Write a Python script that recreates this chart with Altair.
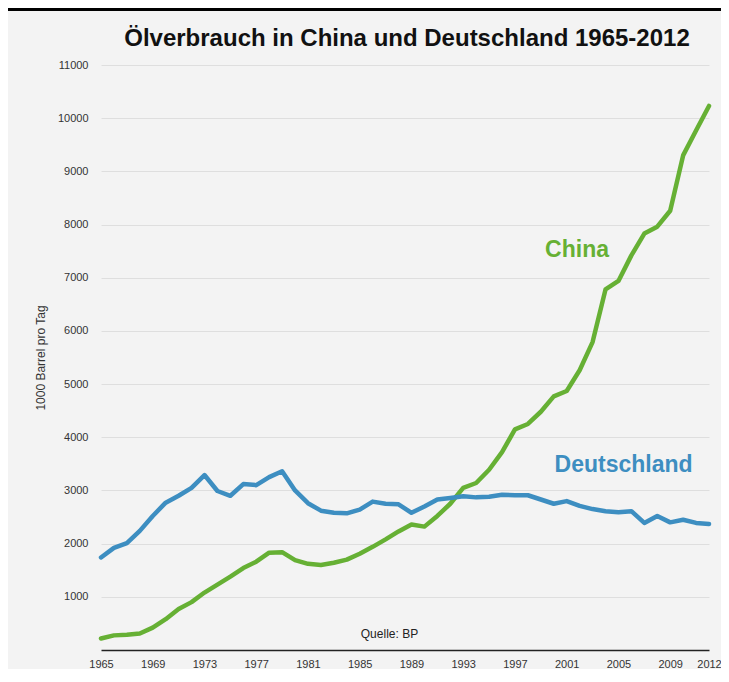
import altair as alt
import pandas as pd

years = list(range(1965, 2013))
china = [216, 275, 285, 310, 420, 580, 770, 900, 1080, 1230, 1380, 1540, 1660, 1830, 1840,
         1690, 1620, 1600, 1640, 1700, 1810, 1940, 2080, 2230, 2360, 2320, 2520, 2750, 3050,
         3140, 3390, 3720, 4150, 4250, 4480, 4770, 4870, 5260, 5790, 6780, 6940, 7420, 7830,
         7960, 8260, 9300, 9770, 10230]
germany = [1740, 1920, 2010, 2240, 2520, 2770, 2900, 3050, 3290, 2990, 2900, 3120, 3100,
           3250, 3360, 3000, 2760, 2620, 2580, 2570, 2640, 2790, 2750, 2740, 2580, 2700,
           2830, 2860, 2890, 2870, 2880, 2920, 2910, 2910, 2830, 2750, 2800, 2710, 2650,
           2610, 2590, 2610, 2390, 2520, 2400, 2450, 2390, 2370]
series_names = ["China", "Deutschland"]
line_colors = ["#66b034", "#3d8ec1"]
label_colors = ["#789a3e", "#3d7c9c"]
x_ticks = [1965, 1969, 1973, 1977, 1981, 1985, 1989, 1993, 1997, 2001, 2005, 2009, 2012]
y_ticks = list(range(1000, 12000, 1000))

title_text = "Ölverbrauch in China und Deutschland 1965-2012"
label_years = [2001.8, 2005.4]
label_values = [7520, 3480]
source_text = "Quelle: BP"
source_year = 1987.3
source_value = 300

df = pd.DataFrame({"Jahr": years, "China": china, "Deutschland": germany})
long = df.melt("Jahr", var_name="Land", value_name="Wert")

x_scale = alt.Scale(domain=[1965, 2012], nice=False, zero=False)
y_scale = alt.Scale(domain=[0, 11000], nice=False)

base = alt.Chart(long)
lines = base.mark_line(strokeWidth=4.5, strokeJoin="round", strokeCap="round").encode(
    x=alt.X("Jahr:Q", scale=x_scale,
            axis=alt.Axis(values=x_ticks, format="d", title=None, grid=False, ticks=False,
                          domain=True, domainColor="#222222", domainWidth=1.5,
                          labelFontSize=11, labelColor="#333333", labelPadding=8,
                          labelFont="Liberation Sans", labelOverlap=False, labelFlush=False)),
    y=alt.Y("Wert:Q", scale=y_scale,
            axis=alt.Axis(values=y_ticks, format="d", title="1000 Barrel pro Tag", grid=True,
                          gridColor="#dedede", gridWidth=1, ticks=False, domain=False,
                          labelFontSize=11, labelColor="#333333", labelPadding=13,
                          labelFont="Liberation Sans", titleFont="Liberation Sans",
                          titleFontSize=12, titleFontWeight="normal", titleColor="#333333",
                          titlePadding=10)),
    color=alt.Color("Land:N", scale=alt.Scale(domain=series_names, range=line_colors), legend=None),
)

lab_df = pd.DataFrame({"Jahr": label_years, "Wert": label_values, "Land": series_names})
labels = alt.Chart(lab_df).mark_text(fontSize=23, fontWeight="bold", font="Liberation Sans",
                                     align="center", baseline="middle").encode(
    x=alt.X("Jahr:Q", scale=x_scale),
    y=alt.Y("Wert:Q", scale=y_scale),
    text="Land:N",
    color=alt.Color("Land:N", scale=alt.Scale(domain=series_names, range=label_colors), legend=None),
)

src_df = pd.DataFrame({"Jahr": [source_year], "Wert": [source_value], "t": [source_text]})
source = alt.Chart(src_df).mark_text(fontSize=12, font="Liberation Sans", color="#222222",
                                     align="center", baseline="middle").encode(
    x=alt.X("Jahr:Q", scale=x_scale),
    y=alt.Y("Wert:Q", scale=y_scale),
    text="t:N",
)

title_df = pd.DataFrame({"t": [title_text]})
title = alt.Chart(title_df).mark_text(fontSize=24, fontWeight="bold", font="Liberation Sans",
                                      color="#111111", align="center", baseline="alphabetic").encode(
    x=alt.value(306), y=alt.value(-19), text="t:N")

frame_top = alt.Chart(src_df).mark_rule(color="#000000", strokeWidth=3).encode(
    x=alt.value(-93), x2=alt.value(620), y=alt.value(-55.5))

chart = alt.layer(lines, labels, source, title, frame_top).properties(
    width=608, height=585,
    autosize=alt.AutoSizeParams(type="none"),
    padding={"left": 93, "top": 57, "right": 12, "bottom": 19},
    background="#f3f3f3",
).configure_view(stroke=None)

chart.save("out.html", embed_options={"renderer": "svg", "actions": False})
